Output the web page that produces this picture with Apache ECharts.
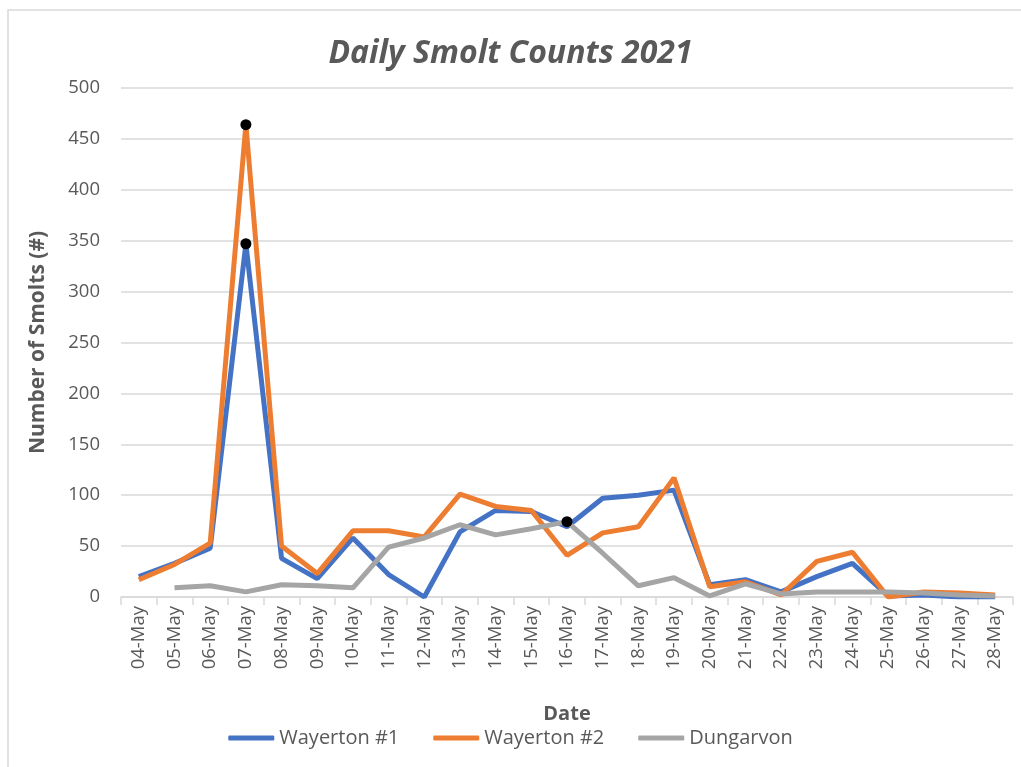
<!DOCTYPE html>
<html>
<head>
<meta charset="utf-8">
<script src="https://cdn.jsdelivr.net/npm/echarts@6/dist/echarts.min.js"></script>
<style>
  html, body { margin: 0; padding: 0; background: #fff; }
  #main { width: 1021px; height: 767px; }
</style>
</head>
<body>
<div id="main"></div>
<script>
// data
var dates = ['04-May','05-May','06-May','07-May','08-May','09-May','10-May','11-May','12-May',
    '13-May','14-May','15-May','16-May','17-May','18-May','19-May','20-May','21-May','22-May',
    '23-May','24-May','25-May','26-May','27-May','28-May'];
var wayerton1 = [20, 33, 48, 347, 38, 18, 58, 22, 0, 64, 85, 84, 69, 97, 100, 105, 12, 17, 5, 20, 33, 1, 2, 0, 0];
var wayerton2 = [17, 32, 53, 464, 50, 23, 65, 65, 59, 101, 89, 85, 41, 63, 69, 117, 10, 15, 2, 35, 44, 0, 5, 4, 2];
var dungarvon = [null, 9, 11, 5, 12, 11, 9, 49, 58, 71, 61, 67, 74, 43, 11, 19, 1, 13, 3, 5, 5, 5, 4, 2, 1];
var yTicks = [0, 50, 100, 150, 200, 250, 300, 350, 400, 450, 500];

var txt = '#595959';
var fnt = 'Open Sans';

// peak marker (black dot)
function peak() {
    return {
        symbol: 'circle',
        symbolSize: 11,
        itemStyle: {color: '#000'},
        label: {show: false},
        data: [{type: 'max'}]
    };
}

function line(name, data, color) {
    return {
        name: name,
        type: 'line',
        data: data,
        symbol: 'none',
        lineStyle: {color: color, width: 5},
        itemStyle: {color: color},
        markPoint: peak(),
        z: 2
    };
}

var myChart = echarts.init(document.getElementById('main'));
var option = {
    animation: false,
    backgroundColor: '#fff',
    textStyle: {fontFamily: fnt},
    graphic: [
        {type: 'rect', shape: {x: 8, y: 10, width: 1030, height: 800}, style: {fill: 'none', stroke: '#d9d9d9', lineWidth: 1.5}}
    ],
    title: {
        text: 'Daily Smolt Counts 2021',
        left: 'center',
        top: 33,
        textStyle: {fontFamily: fnt, fontSize: 32, fontWeight: 'bold', fontStyle: 'italic', color: txt}
    },
    legend: {
        bottom: 14,
        left: 'center',
        itemWidth: 46,
        itemHeight: 5,
        itemGap: 34,
        icon: 'roundRect',
        textStyle: {fontFamily: fnt, fontSize: 20, color: txt},
        data: ['Wayerton #1', 'Wayerton #2', 'Dungarvon']
    },
    grid: {left: 121, right: 8, top: 88, bottom: 170},
    xAxis: {
        type: 'category',
        data: dates,
        boundaryGap: true,
        name: 'Date',
        nameLocation: 'middle',
        nameGap: 107,
        nameTextStyle: {fontFamily: fnt, fontSize: 20, fontWeight: 'bold', color: txt},
        axisLine: {lineStyle: {color: '#d9d9d9', width: 1.5}},
        axisTick: {show: true, length: 8, lineStyle: {color: '#d9d9d9', width: 1.5}},
        axisLabel: {rotate: 90, interval: 0, fontSize: 18.5, color: txt, margin: 9}
    },
    yAxis: {
        type: 'value',
        min: yTicks[0],
        max: yTicks[yTicks.length - 1],
        interval: 50,
        name: 'Number of Smolts (#)',
        nameLocation: 'middle',
        nameGap: 72,
        nameTextStyle: {fontFamily: fnt, fontSize: 21, fontWeight: 'bold', color: txt},
        axisLine: {show: false},
        axisTick: {show: false},
        axisLabel: {fontSize: 18.5, color: txt, margin: 21},
        splitLine: {lineStyle: {color: '#d9d9d9', width: 1.5}}
    },
    series: [
        line('Wayerton #1', wayerton1, '#4472c4'),
        line('Wayerton #2', wayerton2, '#ed7d31'),
        line('Dungarvon', dungarvon, '#a5a5a5')
    ]
};
myChart.setOption(option);
</script>
</body>
</html>
